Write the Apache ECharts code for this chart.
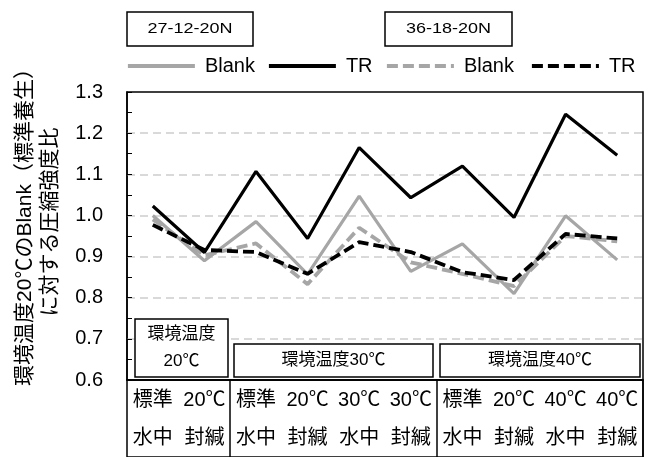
<!DOCTYPE html>
<html>
<head>
<meta charset="utf-8">
<script src="https://cdn.jsdelivr.net/npm/echarts@6/dist/echarts.min.js"></script>
<style>
html,body{margin:0;padding:0;background:#fff;}
#c{width:651px;height:457px;}
</style>
</head>
<body>
<div id="c"></div>
<script>
const categories = ['標準\n水中','20℃\n封緘','標準\n水中','20℃\n封緘','30℃\n水中','30℃\n封緘','標準\n水中','20℃\n封緘','40℃\n水中','40℃\n封緘'];
const blank27 = [1.000, 0.890, 0.985, 0.857, 1.047, 0.864, 0.931, 0.810, 0.999, 0.892];
const tr27    = [1.023, 0.910, 1.107, 0.944, 1.165, 1.043, 1.120, 0.995, 1.246, 1.146];
const blank36 = [0.990, 0.903, 0.932, 0.833, 0.970, 0.886, 0.858, 0.828, 0.950, 0.937];
const tr36    = [0.977, 0.916, 0.911, 0.858, 0.935, 0.911, 0.862, 0.843, 0.955, 0.944];
const seriesNames = ['Blank 27-12-20N','TR 27-12-20N','Blank 36-18-20N','TR 36-18-20N'];
const mixLabels = ['27-12-20N','36-18-20N'];
const envLabels = ['環境温度\n20℃','環境温度30℃','環境温度40℃'];
const yTitle = '環境温度20℃のBlank（標準養生）\nに対する圧縮強度比';

const FONT = "'Liberation Sans', 'Noto Sans CJK JP', sans-serif";
const GRAY = '#A6A6A6';

const chart = echarts.init(document.getElementById('c'), null, {renderer:'canvas'});

function legendAt(left, name){
  return {
    left: left, top: 56, padding: 0,
    itemWidth: 67, itemHeight: 14,
    data: [name],
    selectedMode: false,
    itemStyle: {opacity: 0},
    lineStyle: {width: 3.8},
    formatter: n => n.split(' ')[0],
    textStyle: {fontSize: 20, fontFamily: FONT, color: '#000', padding: [0,0,0,5]}
  };
}

function boxGroup(x, y, w, h, text, fs, lh, scaleX){
  return {
    type: 'group', x: x, y: y,
    children: [
      {type:'rect', shape:{x:0,y:0,width:w,height:h}, style:{fill:'#fff', stroke:'#000', lineWidth:1.5}, z: 10},
      {type:'text', x: w/2, y: h/2, scaleX: scaleX || 1, style:{text:text, fontSize:fs, fontFamily:FONT, fill:'#000', align:'center', verticalAlign:'middle', lineHeight: lh}, z: 11}
    ]
  };
}

const option = {
  animation: false,
  backgroundColor: '#fff',
  grid: [
    {left:127, top:92, width:516, height:288, show:true, borderColor:'#000', borderWidth:1.5, backgroundColor:'transparent'},
    {left:127, top:380, width:516, height:100, show:true, borderColor:'#000', borderWidth:1.5, backgroundColor:'transparent'}
  ],
  legend: [
    legendAt(126, seriesNames[0]),
    legendAt(267, seriesNames[1]),
    legendAt(385, seriesNames[2]),
    legendAt(530, seriesNames[3])
  ],
  xAxis: [
    {
      type:'category', gridIndex:0, data: categories, boundaryGap:true,
      axisLine:{show:true, lineStyle:{color:'#000', width:1.5}},
      axisTick:{show:false},
      splitLine:{show:false},
      axisLabel:{interval:0, fontSize:20, lineHeight:38, margin:1, color:'#000', fontFamily:FONT}
    },
    {
      type:'category', gridIndex:1, data: categories, boundaryGap:true,
      axisLine:{show:false}, axisTick:{show:false}, axisLabel:{show:false},
      splitLine:{show:true, interval:(i)=> i===2 || i===6, lineStyle:{color:'#000', width:1.5, type:'solid'}}
    }
  ],
  yAxis: [
    {
      type:'value', gridIndex:0, min:0.6, max:1.3, interval:0.1,
      axisLine:{show:true, lineStyle:{color:'#000', width:1.5}},
      axisTick:{show:true, inside:true, length:5, lineStyle:{color:'#000', width:1}},
      minorTick:{show:true, splitNumber:2, length:5, lineStyle:{color:'#000', width:1}},
      axisLabel:{margin:24, fontSize:20, color:'#000', fontFamily:FONT, formatter:v=>v.toFixed(1)},
      splitLine:{show:true, showMinLine:false, showMaxLine:false, lineStyle:{color:'#D9D9D9', width:2, type:[8,5]}}
    },
    {type:'value', gridIndex:1, show:false}
  ],
  series: [
    {name:seriesNames[0], type:'line', data:blank27, xAxisIndex:0, yAxisIndex:0, symbol:'none', z:2,
     lineStyle:{color:GRAY, width:3.2}, itemStyle:{color:GRAY}},
    {name:seriesNames[2], type:'line', data:blank36, xAxisIndex:0, yAxisIndex:0, symbol:'none', z:3,
     lineStyle:{color:GRAY, width:3.8, type:[11,5]}, itemStyle:{color:GRAY}},
    {name:seriesNames[3], type:'line', data:tr36, xAxisIndex:0, yAxisIndex:0, symbol:'none', z:4,
     lineStyle:{color:'#000', width:3.8, type:[11,5]}, itemStyle:{color:'#000'}},
    {name:seriesNames[1], type:'line', data:tr27, xAxisIndex:0, yAxisIndex:0, symbol:'none', z:5,
     lineStyle:{color:'#000', width:3.2}, itemStyle:{color:'#000'}}
  ],
  graphic: [
    boxGroup(127, 12, 126, 34, mixLabels[0], 15, 18, 1.2),
    boxGroup(385, 12, 127, 34, mixLabels[1], 15, 18, 1.2),
    boxGroup(135, 319, 93, 58, envLabels[0], 17, 27),
    boxGroup(234, 344, 199, 33, envLabels[1], 17, 20),
    boxGroup(440, 344, 200, 33, envLabels[2], 17, 20),
    {type:'text', x:37.5, y:222, rotation:Math.PI/2,
     style:{text:yTitle, fontSize:21, fontFamily:FONT, fill:'#000', align:'center', verticalAlign:'middle', lineHeight:25}}
  ]
};
chart.setOption(option);
</script>
</body>
</html>
